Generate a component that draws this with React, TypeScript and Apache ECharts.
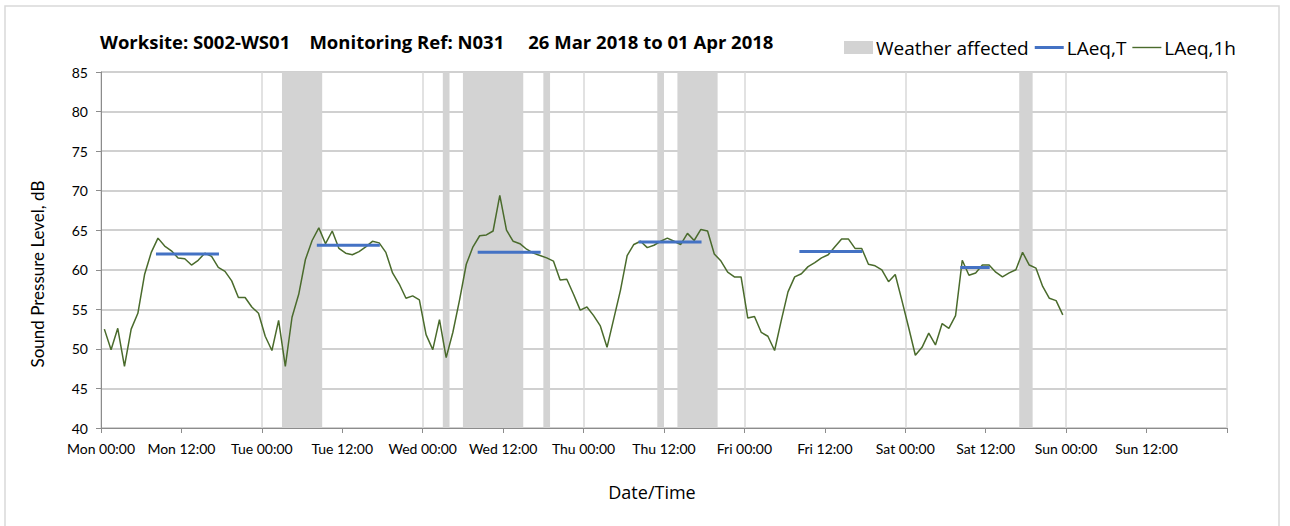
import React, { useEffect, useRef } from "react";
import * as echarts from "echarts";

// Hourly LAeq,1h values (dB), one per hour from Mon 00:00 (plotted at the hour midpoint)
const hourlyLevels: number[] = [
  // Mon
  52.5, 49.9, 52.6, 47.8, 52.5, 54.5, 59.4, 62.2, 64.0, 63.0, 62.4, 61.5,
  61.4, 60.6, 61.2, 62.1, 61.7, 60.3, 59.8, 58.6, 56.5, 56.5, 55.3, 54.5,
  // Tue
  51.6, 49.8, 53.6, 47.8, 54.0, 56.9, 61.3, 63.7, 65.3, 63.3, 64.9, 62.7,
  62.1, 61.9, 62.3, 62.9, 63.6, 63.4, 62.2, 59.6, 58.2, 56.4, 56.7, 56.2,
  // Wed
  51.8, 49.9, 53.7, 48.9, 52.1, 56.2, 60.7, 62.9, 64.3, 64.4, 64.9, 69.4,
  65.0, 63.6, 63.3, 62.6, 62.1, 61.8, 61.5, 61.1, 58.7, 58.8, 56.9, 54.9,
  // Thu
  55.3, 54.2, 52.9, 50.2, 53.8, 57.4, 61.8, 63.2, 63.6, 62.8, 63.1, 63.6,
  64.0, 63.6, 63.2, 64.6, 63.7, 65.1, 64.9, 62.0, 61.1, 59.7, 59.1, 59.1,
  // Fri
  53.9, 54.1, 52.1, 51.6, 49.8, 53.6, 57.2, 59.1, 59.5, 60.4, 60.9, 61.5,
  61.9, 62.9, 63.9, 63.9, 62.7, 62.7, 60.7, 60.5, 60.0, 58.5, 59.4, 56.1,
  // Sat
  52.7, 49.2, 50.2, 52.0, 50.5, 53.2, 52.6, 54.2, 61.2, 59.3, 59.6, 60.6,
  60.6, 59.7, 59.1, 59.6, 60.0, 62.2, 60.6, 60.2, 57.9, 56.4, 56.1, 54.3,
];

// LAeq,T daytime periods (hours since Mon 00:00) and levels
const laeqTStart: number[] = [8.2, 32.2, 56.2, 80.2, 104.2, 128.2];
const laeqTEnd: number[] = [17.6, 41.6, 65.6, 89.6, 113.6, 132.6];
const laeqTValues: number[] = [62.0, 63.1, 62.2, 63.5, 62.3, 60.3];

// Weather affected periods (hours since Mon 00:00)
const weatherStart: number[] = [27, 51, 54, 66, 83, 86, 137];
const weatherEnd: number[] = [33, 52, 63, 67, 84, 92, 139];

// X tick labels every 12 hours
const tickLabels: string[] = [
  "Mon 00:00", "Mon 12:00", "Tue 00:00", "Tue 12:00", "Wed 00:00", "Wed 12:00",
  "Thu 00:00", "Thu 12:00", "Fri 00:00", "Fri 12:00", "Sat 00:00", "Sat 12:00",
  "Sun 00:00", "Sun 12:00", "",
];

const FONT = "Lato, 'Open Sans', sans-serif";
const FONT2 = "'Open Sans', Lato, sans-serif";

export default function App() {
  const ref = useRef<HTMLDivElement>(null);

  useEffect(() => {
    if (!ref.current) return;
    const chart = echarts.init(ref.current, null, { renderer: "svg" });

    const lineData = hourlyLevels.map((v, i) => [i + 0.5, v]);
    const weatherData = weatherStart.map((s, i) => [s, weatherEnd[i]]);

    const laeqTSeries = laeqTValues.map((v, i) => ({
      name: "LAeq,T",
      type: "line",
      data: [
        [laeqTStart[i], v],
        [laeqTEnd[i], v],
      ],
      symbol: "none",
      lineStyle: { color: "#4472C4", width: 3 },
      itemStyle: { color: "#4472C4" },
      z: 4,
    }));

    const option: any = {
      animation: false,
      backgroundColor: "#ffffff",
      textStyle: { fontFamily: FONT },
      title: {
        text: "Worksite: S002-WS01    Monitoring Ref: N031     26 Mar 2018 to 01 Apr 2018",
        left: 100,
        top: 32,
        padding: 0,
        textStyle: {
          fontFamily: FONT2,
          fontSize: 18.5,
          fontWeight: "bold",
          color: "#000000",
        },
      },
      legend: {
        left: 844,
        top: 38,
        padding: 0,
        itemWidth: 29,
        itemHeight: 13,
        itemGap: 6,
        textStyle: { fontFamily: FONT2, fontSize: 19, color: "#000000", padding: [0, 0, 0, -2] },
        data: [
          { name: "Weather affected", icon: "rect", itemStyle: { color: "#d3d3d3" } },
          {
            name: "LAeq,T",
            icon: "path://M0,0H29V3H0Z",
            itemStyle: { color: "#4472C4", borderWidth: 0 },
          },
          {
            name: "LAeq,1h",
            icon: "path://M0,0H29V1.4H0Z",
            itemStyle: { color: "#4a6b2c", borderWidth: 0 },
          },
        ],
      },
      grid: { left: 101, right: 63, top: 72, bottom: 98 },
      xAxis: [
        {
          type: "value",
          min: 0,
          max: 168,
          interval: 12,
          axisLine: { lineStyle: { color: "#8c8c8c", width: 1 } },
          axisTick: { show: true, length: 5, inside: false, lineStyle: { color: "#8c8c8c" } },
          axisLabel: {
            margin: 13,
            fontFamily: FONT,
            fontSize: 14,
            color: "#000000",
            formatter: (v: number) => tickLabels[Math.round(v / 12)] ?? "",
          },
          splitLine: { show: false },
        },
        {
          type: "value",
          min: 0,
          max: 168,
          interval: 24,
          position: "bottom",
          axisLine: { show: false },
          axisTick: { show: false },
          axisLabel: { show: false },
          splitLine: { show: true, lineStyle: { color: "#d9d9d9", width: 1.5 } },
        },
      ],
      yAxis: {
        type: "value",
        min: 40,
        max: 85,
        interval: 5,
        axisLine: { show: true, lineStyle: { color: "#8c8c8c", width: 1 } },
        axisTick: { show: true, length: 5, lineStyle: { color: "#8c8c8c" } },
        axisLabel: { margin: 13, fontFamily: FONT, fontSize: 14, color: "#000000" },
        splitLine: { show: true, lineStyle: { color: "#c0c0c0", width: 1.5 } },
      },
      graphic: [
        {
          type: "rect",
          shape: { x: 5, y: 6, width: 1274, height: 540 },
          style: { fill: "none", stroke: "#d9d9d9", lineWidth: 1.5 },
          silent: true,
          z: -10,
        },
        {
          type: "text",
          x: 652,
          y: 492,
          style: {
            text: "Date/Time",
            fontFamily: FONT2,
            fontSize: 18,
            fill: "#000000",
            align: "center",
            verticalAlign: "middle",
          },
        },
        {
          type: "text",
          x: 37,
          y: 274,
          rotation: Math.PI / 2,
          style: {
            text: "Sound Pressure Level, dB",
            fontFamily: FONT,
            fontSize: 17,
            fill: "#000000",
            align: "center",
            verticalAlign: "middle",
          },
        },
      ],
      series: [
        {
          name: "Weather affected",
          type: "custom",
          data: weatherData,
          encode: { x: [0, 1] },
          itemStyle: { color: "#d3d3d3" },
          z: 1,
          renderItem: (params: any, api: any) => {
            const p0 = api.coord([api.value(0), 85]);
            const p1 = api.coord([api.value(1), 40]);
            return {
              type: "rect",
              shape: { x: p0[0], y: p0[1], width: p1[0] - p0[0], height: p1[1] - p0[1] },
              style: { fill: "#d3d3d3" },
            };
          },
        },
        ...laeqTSeries,
        {
          name: "LAeq,1h",
          type: "line",
          data: lineData,
          symbol: "none",
          lineStyle: { color: "#4a6b2c", width: 1.5 },
          itemStyle: { color: "#4a6b2c" },
          z: 3,
        },
      ],
    };

    chart.setOption(option);
    return () => chart.dispose();
  }, []);

  return (
    <div
      ref={ref}
      style={{ position: "fixed", left: 0, top: 0, width: 1290, height: 526 }}
    />
  );
}
